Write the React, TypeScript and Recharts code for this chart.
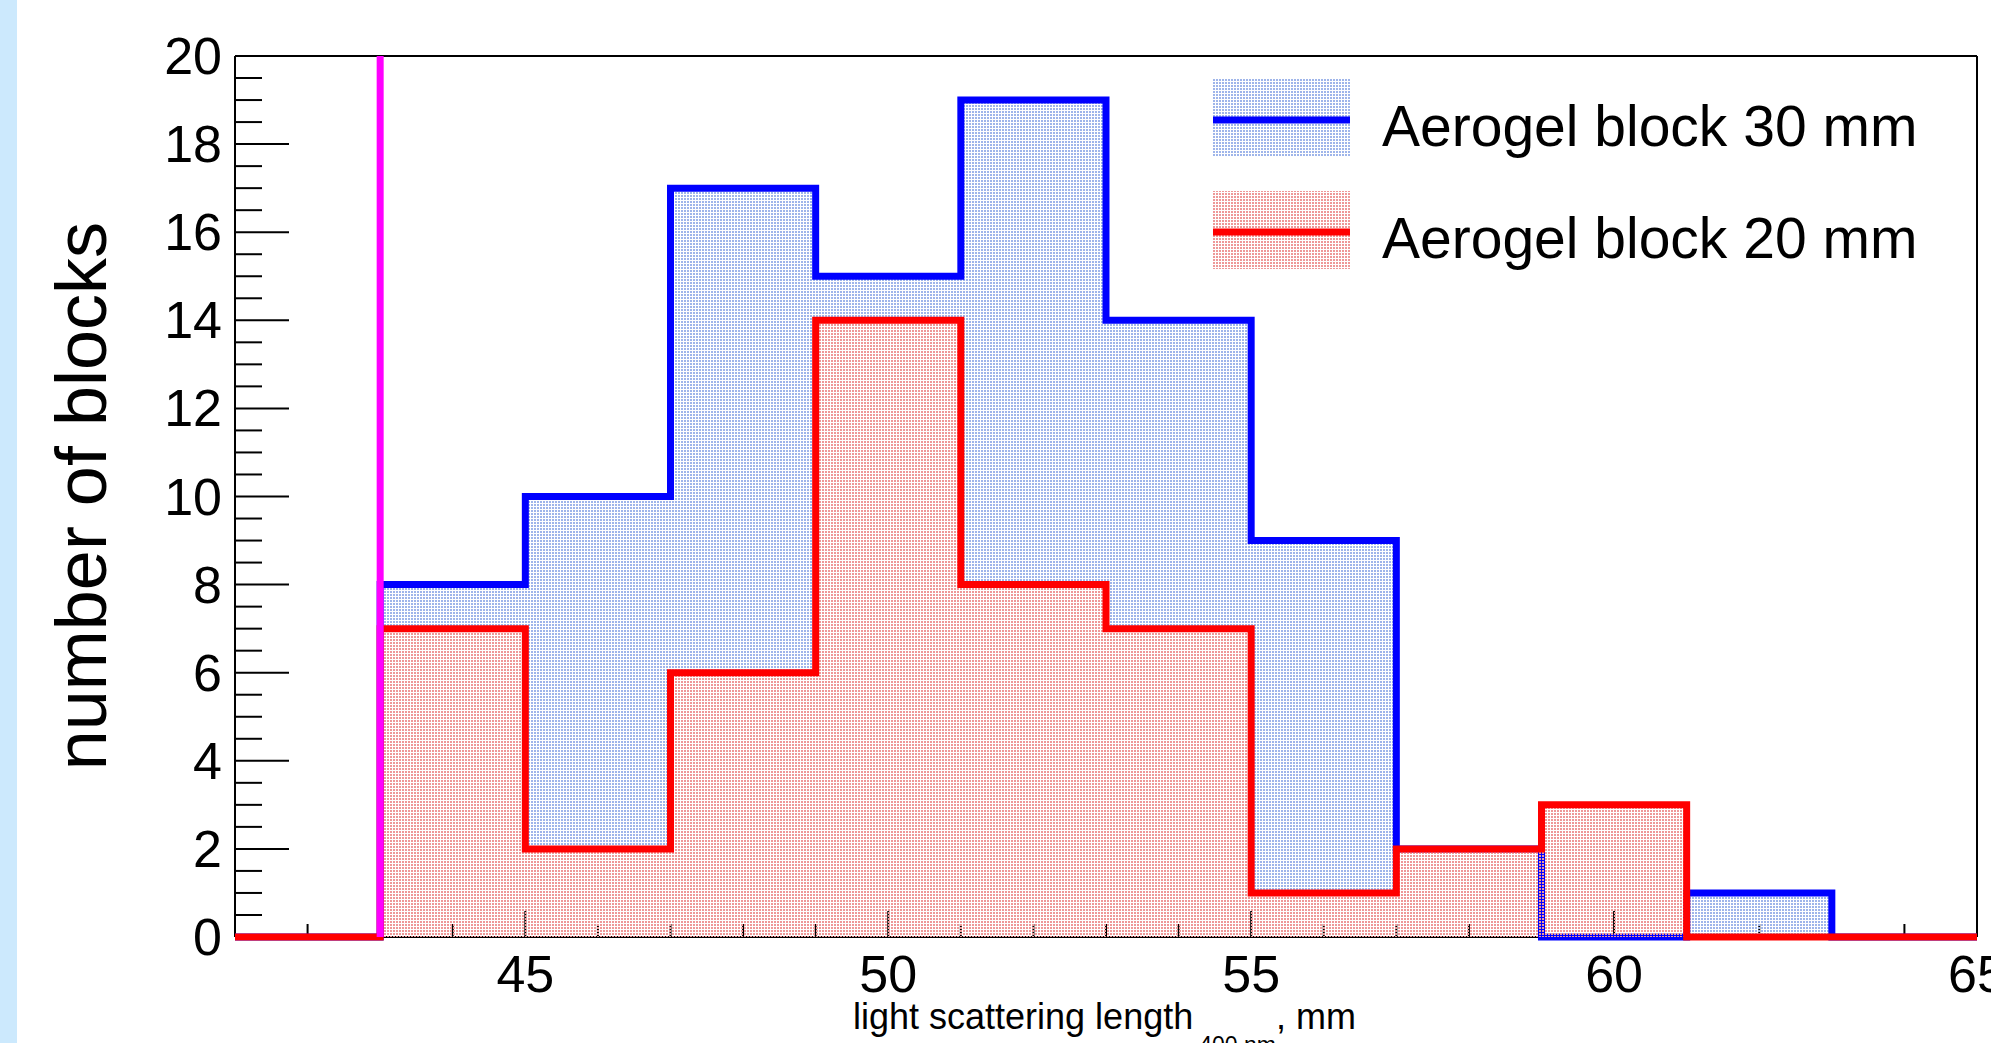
import { ComposedChart, Area, XAxis, YAxis, ReferenceLine, Legend, Label } from 'recharts'

// bin edges of the histogram (width 2 mm), value is the count of the bin starting at that edge
const binEdges = [41, 43, 45, 47, 49, 51, 53, 55, 57, 59, 61, 63, 65]
const blocks30mm = [0, 8, 10, 17, 15, 19, 14, 9, 2, 0, 1, 0, 0]
const blocks20mm = [0, 7, 2, 6, 14, 8, 7, 1, 2, 3, 0, 0, 0]

const xTicks = [41, 42, 43, 44, 45, 46, 47, 48, 49, 50, 51, 52, 53, 54, 55, 56, 57, 58, 59, 60, 61, 62, 63, 64, 65]
const xLabelTicks = [45, 50, 55, 60, 65]
const yTicks = [
  0, 0.5, 1, 1.5, 2, 2.5, 3, 3.5, 4, 4.5, 5, 5.5, 6, 6.5, 7, 7.5, 8, 8.5, 9, 9.5, 10,
  10.5, 11, 11.5, 12, 12.5, 13, 13.5, 14, 14.5, 15, 15.5, 16, 16.5, 17, 17.5, 18, 18.5, 19, 19.5, 20,
]
const yLabelTicks = [0, 2, 4, 6, 8, 10, 12, 14, 16, 18, 20]
const cutLength = 43

const series = [
  { key: 'b30', name: 'Aerogel block 30 mm', color: '#0000ff', pattern: 'url(#dotsBlue)' },
  { key: 'b20', name: 'Aerogel block 20 mm', color: '#ff0000', pattern: 'url(#dotsRed)' },
]

const data = binEdges.map((x, i) => ({ x, b30: blocks30mm[i], b20: blocks20mm[i] }))

const FONT = '"Liberation Sans", Arial, Helvetica, sans-serif'

function XTick(props: any) {
  const { x, y, payload } = props
  const major = xLabelTicks.includes(payload.value)
  return (
    <g>
      <line x1={x} x2={x} y1={y} y2={y - (major ? 26 : 13)} stroke="#000" strokeWidth={2} />
      {major && (
        <text x={x} y={y + 55} textAnchor="middle" fontSize={52} fontFamily={FONT} fill="#000">
          {payload.value}
        </text>
      )}
    </g>
  )
}

function YTick(props: any) {
  const { x, y, payload } = props
  const major = yLabelTicks.includes(payload.value)
  return (
    <g>
      <line x1={x} x2={x + (major ? 54 : 27)} y1={y} y2={y} stroke="#000" strokeWidth={2} />
      {major && (
        <text x={x - 13} y={y + 18} textAnchor="end" fontSize={52} fontFamily={FONT} fill="#000">
          {payload.value}
        </text>
      )}
    </g>
  )
}

// legend drawn in the series order (blue first), swatch = fill pattern + line
function LegendBox({ payload }: any) {
  const names = (payload || []).map((p: any) => p.value)
  const rows = series.filter((s) => names.length === 0 || names.includes(s.name))
  return (
    <svg width={720} height={200}>
      {rows.map((s, i) => {
        const top = i * 112
        return (
          <g key={s.key}>
            <rect x={0} y={top} width={137} height={78} fill={s.pattern} />
            <line x1={0} x2={137} y1={top + 41} y2={top + 41} stroke={s.color} strokeWidth={7} />
            <text x={169} y={top + 67} fontSize={57} fontFamily={FONT} fill="#000">
              {s.name}
            </text>
          </g>
        )
      })}
    </svg>
  )
}

export default function App() {
  return (
    <div style={{ position: 'absolute', left: 0, top: 0, width: 1991, height: 1043, background: '#fff', overflow: 'hidden' }}>
      <div style={{ position: 'absolute', left: 0, top: 0, width: 17, height: 1043, background: '#cce9fd' }} />
      <ComposedChart
        width={1991}
        height={1043}
        data={data}
        margin={{ top: 55, right: 13, bottom: 0, left: 0 }}
        style={{ fontFamily: FONT }}
      >
        <defs>
          <pattern id="dotsBlue" width={3} height={3} patternUnits="userSpaceOnUse">
            <rect x={0} y={0} width={2} height={2} fill="#9fb5ea" />
          </pattern>
          <pattern id="dotsRed" width={3} height={3} patternUnits="userSpaceOnUse">
            <rect x={0} y={0} width={2} height={2} fill="#ee9898" />
          </pattern>
        </defs>
        <XAxis
          dataKey="x"
          type="number"
          domain={[41, 65]}
          ticks={xTicks}
          interval={0}
          tick={<XTick />}
          tickLine={false}
          tickSize={0}
          tickMargin={0}
          height={106}
          axisLine={{ stroke: '#000', strokeWidth: 2 }}
        >
          <Label
            content={({ viewBox }: any) => (
              <text x={viewBox.x + 618} y={viewBox.y + 92} fontSize={36} fontFamily={FONT} fill="#000">
                <tspan>light scattering length</tspan>
                <tspan dx={6} dy={24} fontSize={23}>400 nm</tspan>
                <tspan dy={-24}>, mm</tspan>
              </text>
            )}
          />
        </XAxis>
        <XAxis
          xAxisId="top"
          orientation="top"
          type="number"
          domain={[41, 65]}
          ticks={[41, 65]}
          tick={false}
          tickLine={false}
          height={1}
          axisLine={{ stroke: '#000', strokeWidth: 2 }}
        />
        <YAxis
          type="number"
          domain={[0, 20]}
          ticks={yTicks}
          interval={0}
          tick={<YTick />}
          tickLine={false}
          tickSize={0}
          tickMargin={0}
          width={235}
          axisLine={{ stroke: '#000', strokeWidth: 2 }}
        >
          <Label
            content={({ viewBox }: any) => (
              <text
                transform={`translate(${viewBox.x + 106}, ${viewBox.y + 166}) rotate(-90)`}
                textAnchor="end"
                fontSize={72}
                fontFamily={FONT}
                fill="#000"
              >
                number of blocks
              </text>
            )}
          />
        </YAxis>
        <YAxis
          yAxisId="right"
          orientation="right"
          type="number"
          domain={[0, 20]}
          ticks={[0, 20]}
          tick={false}
          tickLine={false}
          width={1}
          axisLine={{ stroke: '#000', strokeWidth: 2 }}
        />
        {series.map((s) => (
          <Area
            key={s.key}
            type="stepAfter"
            dataKey={s.key}
            name={s.name}
            stroke={s.color}
            strokeWidth={7}
            strokeLinejoin="miter"
            fill={s.pattern}
            fillOpacity={1}
            dot={false}
            activeDot={false}
            isAnimationActive={false}
            zIndex={2500}
          />
        ))}
        <ReferenceLine x={cutLength} stroke="#ff00ff" strokeWidth={7} zIndex={2600} />
        <Legend
          layout="vertical"
          align="center"
          verticalAlign="middle"
          content={<LegendBox />}
          wrapperStyle={{ position: 'absolute', left: 1213, top: 79, width: 720, height: 200 }}
        />
      </ComposedChart>
    </div>
  )
}
